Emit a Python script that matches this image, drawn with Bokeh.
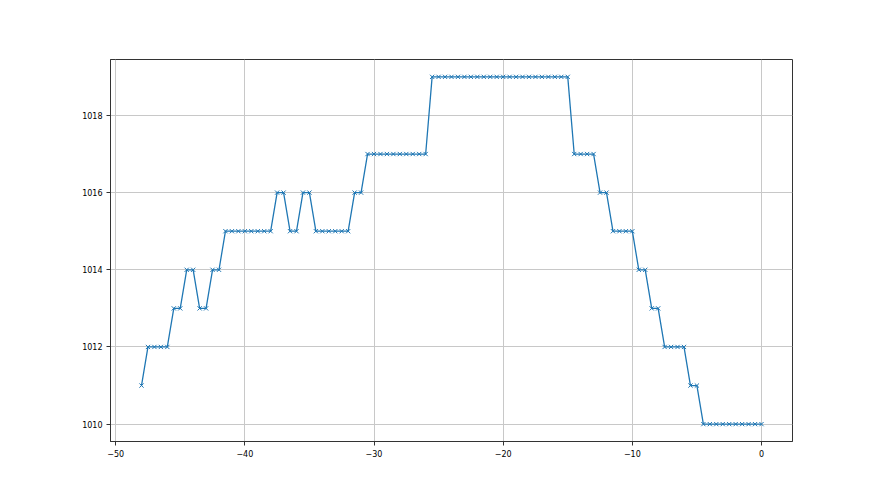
from bokeh.plotting import figure
from bokeh.models import Range1d, FixedTicker
from bokeh.embed import file_html
from bokeh.resources import INLINE

# Data: time offset (x) and pressure (y)
x_start = -48.0
x_step = 0.5
# runs of (value, count)
runs_values = [1011, 1012, 1013, 1014, 1013, 1014, 1015, 1016, 1015, 1016, 1015, 1016,
               1017, 1019, 1017, 1016, 1015, 1014, 1013, 1012, 1011, 1010]
runs_counts = [1, 4, 2, 2, 2, 2, 8, 2, 2, 2, 6, 2,
               10, 22, 4, 2, 4, 2, 2, 4, 2, 10]

y_vals = []
for v, c in zip(runs_values, runs_counts):
    y_vals.extend([v] * c)
x_vals = [x_start + i * x_step for i in range(len(y_vals))]

x_ticks = [-50, -40, -30, -20, -10, 0]
y_ticks = [1010, 1012, 1014, 1016, 1018]

W, H = 864, 479
p = figure(width=W, height=H, output_backend="svg", toolbar_location=None,
           x_range=Range1d(-50.4, 2.4), y_range=Range1d(1009.55, 1019.45),
           min_border_left=110, min_border_right=72, min_border_top=59, min_border_bottom=38)

p.line(x_vals, y_vals, line_color="#1f77b4", line_width=1.3)
p.scatter(x_vals, y_vals, marker="x", size=6, line_color="#1f77b4", line_width=1)

p.xaxis.ticker = FixedTicker(ticks=x_ticks)
p.yaxis.ticker = FixedTicker(ticks=y_ticks)
p.xaxis.major_label_overrides = {t: ("\u2212" + str(-t) if t < 0 else str(t)) for t in x_ticks}
for ax in (p.xaxis, p.yaxis):
    ax.minor_tick_line_color = None
    ax.major_tick_in = 0
    ax.major_tick_out = 4
    ax.major_tick_line_color = "#333333"
    ax.axis_line_color = "#333333"
    ax.major_label_text_font = "DejaVu Sans"
    ax.major_label_text_font_size = "8px"
    ax.major_label_text_color = "#000000"
    ax.major_label_standoff = 4

p.grid.grid_line_color = "#c8c8c8"
p.grid.grid_line_width = 1
p.outline_line_color = "#333333"
p.outline_line_width = 1
p.background_fill_color = "white"
p.border_fill_color = "white"

open("out.html", "w").write(file_html(p, INLINE))
